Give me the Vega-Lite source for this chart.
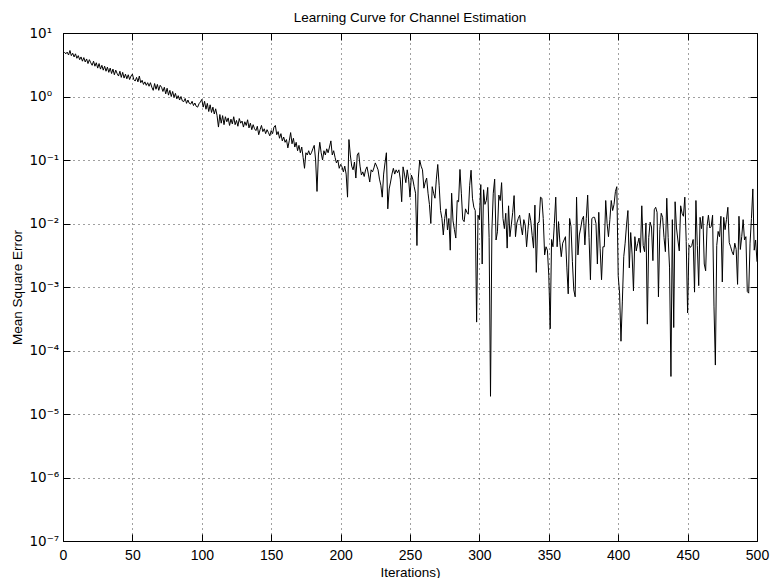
{
"$schema": "https://vega.github.io/schema/vega-lite/v6.json",
"width": 694, "height": 508,
"autosize": "none",
"padding": {"left": 63, "top": 33, "right": 13, "bottom": 37},
"background": "white",
"title": {"text": "Learning Curve for Channel Estimation", "fontSize": 13.5, "fontWeight": "normal", "font": "Liberation Sans", "offset": 2, "color": "black"},
"config": {
  "view": {"stroke": null},
  "font": "Liberation Sans",
  "axis": {"domainColor": "black", "domainWidth": 1, "tickColor": "black", "tickSize": -7, "tickWidth": 1, "labelColor": "black", "labelFont": "Liberation Sans", "labelFontSize": 14, "titleFont": "Liberation Sans", "titleFontSize": 13.5, "titleFontWeight": "normal", "titleColor": "black", "gridColor": "#000000", "gridOpacity": 0.75, "gridDash": [1, 4], "gridWidth": 1, "labelOverlap": false, "labelFlush": false}
},
"data": {"values": [
{"i":1,"mse":5.0},{"i":2,"mse":4.7},{"i":3,"mse":5.0},{"i":4,"mse":4.5},{"i":5,"mse":5.3},{"i":6,"mse":4.4},{"i":7,"mse":4.8},{"i":8,"mse":4.2},{"i":9,"mse":4.7},{"i":10,"mse":4.0},
{"i":11,"mse":4.4},{"i":12,"mse":3.8},{"i":13,"mse":4.2},{"i":14,"mse":3.6},{"i":15,"mse":4.1},{"i":16,"mse":3.5},{"i":17,"mse":3.9},{"i":18,"mse":3.3},{"i":19,"mse":3.8},{"i":20,"mse":3.4},
{"i":21,"mse":3.1},{"i":22,"mse":3.6},{"i":23,"mse":3.0},{"i":24,"mse":3.4},{"i":25,"mse":2.8},{"i":26,"mse":3.3},{"i":27,"mse":2.7},{"i":28,"mse":3.1},{"i":29,"mse":2.6},{"i":30,"mse":3.0},
{"i":31,"mse":2.5},{"i":32,"mse":2.9},{"i":33,"mse":2.4},{"i":34,"mse":2.8},{"i":35,"mse":2.3},{"i":36,"mse":2.7},{"i":37,"mse":2.2},{"i":38,"mse":2.6},{"i":39,"mse":2.3},{"i":40,"mse":2.1},
{"i":41,"mse":2.5},{"i":42,"mse":2.0},{"i":43,"mse":2.4},{"i":44,"mse":1.95},{"i":45,"mse":2.25},{"i":46,"mse":1.9},{"i":47,"mse":2.2},{"i":48,"mse":1.85},{"i":49,"mse":2.1},{"i":50,"mse":2.25},
{"i":51,"mse":1.85},{"i":52,"mse":1.75},{"i":53,"mse":2.0},{"i":54,"mse":1.7},{"i":55,"mse":2.1},{"i":56,"mse":1.65},{"i":57,"mse":1.8},{"i":58,"mse":1.55},{"i":59,"mse":1.7},{"i":60,"mse":1.5},
{"i":61,"mse":1.65},{"i":62,"mse":1.45},{"i":63,"mse":1.65},{"i":64,"mse":1.4},{"i":65,"mse":1.25},{"i":66,"mse":1.6},{"i":67,"mse":1.3},{"i":68,"mse":1.55},{"i":69,"mse":1.25},{"i":70,"mse":1.5},
{"i":71,"mse":1.4},{"i":72,"mse":1.2},{"i":73,"mse":1.4},{"i":74,"mse":1.1},{"i":75,"mse":1.35},{"i":76,"mse":1.05},{"i":77,"mse":1.25},{"i":78,"mse":1.0},{"i":79,"mse":1.2},{"i":80,"mse":0.97},
{"i":81,"mse":1.12},{"i":82,"mse":0.92},{"i":83,"mse":1.03},{"i":84,"mse":0.88},{"i":85,"mse":1.0},{"i":86,"mse":0.85},{"i":87,"mse":0.83},{"i":88,"mse":0.93},{"i":89,"mse":0.78},{"i":90,"mse":0.88},
{"i":91,"mse":0.78},{"i":92,"mse":0.76},{"i":93,"mse":0.84},{"i":94,"mse":0.72},{"i":95,"mse":0.79},{"i":96,"mse":0.7},{"i":97,"mse":0.68},{"i":98,"mse":0.77},{"i":99,"mse":0.82},{"i":100,"mse":0.9},
{"i":101,"mse":0.68},{"i":102,"mse":0.84},{"i":103,"mse":0.63},{"i":104,"mse":0.78},{"i":105,"mse":0.58},{"i":106,"mse":0.74},{"i":107,"mse":0.56},{"i":108,"mse":0.68},{"i":109,"mse":0.53},{"i":110,"mse":0.64},
{"i":111,"mse":0.5},{"i":112,"mse":0.33},{"i":113,"mse":0.52},{"i":114,"mse":0.38},{"i":115,"mse":0.5},{"i":116,"mse":0.36},{"i":117,"mse":0.48},{"i":118,"mse":0.4},{"i":119,"mse":0.46},{"i":120,"mse":0.35},
{"i":121,"mse":0.44},{"i":122,"mse":0.37},{"i":123,"mse":0.48},{"i":124,"mse":0.36},{"i":125,"mse":0.42},{"i":126,"mse":0.34},{"i":127,"mse":0.45},{"i":128,"mse":0.38},{"i":129,"mse":0.41},{"i":130,"mse":0.33},
{"i":131,"mse":0.4},{"i":132,"mse":0.35},{"i":133,"mse":0.43},{"i":134,"mse":0.32},{"i":135,"mse":0.38},{"i":136,"mse":0.3},{"i":137,"mse":0.36},{"i":138,"mse":0.31},{"i":139,"mse":0.29},{"i":140,"mse":0.34},
{"i":141,"mse":0.25},{"i":142,"mse":0.3},{"i":143,"mse":0.35},{"i":144,"mse":0.28},{"i":145,"mse":0.31},{"i":146,"mse":0.26},{"i":147,"mse":0.3},{"i":148,"mse":0.27},{"i":149,"mse":0.24},{"i":150,"mse":0.29},
{"i":151,"mse":0.26},{"i":152,"mse":0.33},{"i":153,"mse":0.35},{"i":154,"mse":0.25},{"i":155,"mse":0.28},{"i":156,"mse":0.22},{"i":157,"mse":0.26},{"i":158,"mse":0.2},{"i":159,"mse":0.23},{"i":160,"mse":0.19},
{"i":161,"mse":0.21},{"i":162,"mse":0.155},{"i":163,"mse":0.2},{"i":164,"mse":0.27},{"i":165,"mse":0.18},{"i":166,"mse":0.22},{"i":167,"mse":0.16},{"i":168,"mse":0.19},{"i":169,"mse":0.14},{"i":170,"mse":0.17},
{"i":171,"mse":0.13},{"i":172,"mse":0.16},{"i":173,"mse":0.11},{"i":174,"mse":0.074},{"i":175,"mse":0.13},{"i":176,"mse":0.12},{"i":177,"mse":0.14},{"i":178,"mse":0.12},{"i":179,"mse":0.13},{"i":180,"mse":0.15},
{"i":181,"mse":0.17},{"i":182,"mse":0.1},{"i":183,"mse":0.032},{"i":184,"mse":0.12},{"i":185,"mse":0.19},{"i":186,"mse":0.13},{"i":187,"mse":0.1},{"i":188,"mse":0.14},{"i":189,"mse":0.12},{"i":190,"mse":0.15},
{"i":191,"mse":0.13},{"i":192,"mse":0.16},{"i":193,"mse":0.2},{"i":194,"mse":0.12},{"i":195,"mse":0.14},{"i":196,"mse":0.11},{"i":197,"mse":0.09},{"i":198,"mse":0.1},{"i":199,"mse":0.074},{"i":200,"mse":0.085},
{"i":201,"mse":0.078},{"i":202,"mse":0.065},{"i":203,"mse":0.08},{"i":204,"mse":0.06},{"i":205,"mse":0.026},{"i":206,"mse":0.21},{"i":207,"mse":0.12},{"i":208,"mse":0.08},{"i":209,"mse":0.07},{"i":210,"mse":0.093},
{"i":211,"mse":0.052},{"i":212,"mse":0.12},{"i":213,"mse":0.13},{"i":214,"mse":0.08},{"i":215,"mse":0.058},{"i":216,"mse":0.065},{"i":217,"mse":0.055},{"i":218,"mse":0.07},{"i":219,"mse":0.078},{"i":220,"mse":0.06},
{"i":221,"mse":0.045},{"i":222,"mse":0.07},{"i":223,"mse":0.065},{"i":224,"mse":0.075},{"i":225,"mse":0.09},{"i":226,"mse":0.08},{"i":227,"mse":0.07},{"i":228,"mse":0.05},{"i":229,"mse":0.04},{"i":230,"mse":0.026},
{"i":231,"mse":0.06},{"i":232,"mse":0.09},{"i":233,"mse":0.13},{"i":234,"mse":0.017},{"i":235,"mse":0.035},{"i":236,"mse":0.045},{"i":237,"mse":0.06},{"i":238,"mse":0.074},{"i":239,"mse":0.06},{"i":240,"mse":0.07},
{"i":241,"mse":0.063},{"i":242,"mse":0.07},{"i":243,"mse":0.05},{"i":244,"mse":0.022},{"i":245,"mse":0.078},{"i":246,"mse":0.06},{"i":247,"mse":0.044},{"i":248,"mse":0.07},{"i":249,"mse":0.05},{"i":250,"mse":0.026},
{"i":251,"mse":0.058},{"i":252,"mse":0.05},{"i":253,"mse":0.038},{"i":254,"mse":0.03},{"i":255,"mse":0.0045},{"i":256,"mse":0.052},{"i":257,"mse":0.1},{"i":258,"mse":0.08},{"i":259,"mse":0.07},{"i":260,"mse":0.036},
{"i":261,"mse":0.045},{"i":262,"mse":0.052},{"i":263,"mse":0.03},{"i":264,"mse":0.02},{"i":265,"mse":0.01},{"i":266,"mse":0.038},{"i":267,"mse":0.03},{"i":268,"mse":0.025},{"i":269,"mse":0.05},{"i":270,"mse":0.085},
{"i":271,"mse":0.04},{"i":272,"mse":0.016},{"i":273,"mse":0.012},{"i":274,"mse":0.0066},{"i":275,"mse":0.012},{"i":276,"mse":0.017},{"i":277,"mse":0.0079},{"i":278,"mse":0.012},{"i":279,"mse":0.0038},{"i":280,"mse":0.03},
{"i":281,"mse":0.011},{"i":282,"mse":0.008},{"i":283,"mse":0.0059},{"i":284,"mse":0.023},{"i":285,"mse":0.022},{"i":286,"mse":0.071},{"i":287,"mse":0.03},{"i":288,"mse":0.0115},{"i":289,"mse":0.0107},{"i":290,"mse":0.017},
{"i":291,"mse":0.015},{"i":292,"mse":0.014},{"i":293,"mse":0.04},{"i":294,"mse":0.069},{"i":295,"mse":0.025},{"i":296,"mse":0.018},{"i":297,"mse":0.016},{"i":298,"mse":0.00028},{"i":299,"mse":0.0135},{"i":300,"mse":0.0115},
{"i":301,"mse":0.041},{"i":302,"mse":0.0023},{"i":303,"mse":0.034},{"i":304,"mse":0.02},{"i":305,"mse":0.023},{"i":306,"mse":0.037},{"i":307,"mse":0.006},{"i":308,"mse":0.000019},{"i":309,"mse":0.0079},{"i":310,"mse":0.03},
{"i":311,"mse":0.05},{"i":312,"mse":0.0055},{"i":313,"mse":0.0074},{"i":314,"mse":0.028},{"i":315,"mse":0.023},{"i":316,"mse":0.044},{"i":317,"mse":0.012},{"i":318,"mse":0.0083},{"i":319,"mse":0.0145},{"i":320,"mse":0.0041},
{"i":321,"mse":0.019},{"i":322,"mse":0.0062},{"i":323,"mse":0.0095},{"i":324,"mse":0.015},{"i":325,"mse":0.0275},{"i":326,"mse":0.0062},{"i":327,"mse":0.0102},{"i":328,"mse":0.012},{"i":329,"mse":0.0135},{"i":330,"mse":0.009},
{"i":331,"mse":0.0066},{"i":332,"mse":0.0115},{"i":333,"mse":0.0095},{"i":334,"mse":0.0043},{"i":335,"mse":0.008},{"i":336,"mse":0.0145},{"i":337,"mse":0.011},{"i":338,"mse":0.0065},{"i":339,"mse":0.0041},{"i":340,"mse":0.0195},
{"i":341,"mse":0.0017},{"i":342,"mse":0.0102},{"i":343,"mse":0.0105},{"i":344,"mse":0.026},{"i":345,"mse":0.025},{"i":346,"mse":0.012},{"i":347,"mse":0.0032},{"i":348,"mse":0.0043},{"i":349,"mse":0.0038},{"i":350,"mse":0.0015},
{"i":351,"mse":0.00022},{"i":352,"mse":0.0056},{"i":353,"mse":0.0043},{"i":354,"mse":0.01},{"i":355,"mse":0.026},{"i":356,"mse":0.0043},{"i":357,"mse":0.0107},{"i":358,"mse":0.005},{"i":359,"mse":0.003},{"i":360,"mse":0.0049},
{"i":361,"mse":0.0055},{"i":362,"mse":0.0062},{"i":363,"mse":0.002},{"i":364,"mse":0.00078},{"i":365,"mse":0.012},{"i":366,"mse":0.009},{"i":367,"mse":0.0025},{"i":368,"mse":0.0009},{"i":369,"mse":0.0007},{"i":370,"mse":0.026},
{"i":371,"mse":0.0032},{"i":372,"mse":0.0066},{"i":373,"mse":0.0085},{"i":374,"mse":0.0115},{"i":375,"mse":0.013},{"i":376,"mse":0.0046},{"i":377,"mse":0.012},{"i":378,"mse":0.028},{"i":379,"mse":0.006},{"i":380,"mse":0.0013},
{"i":381,"mse":0.012},{"i":382,"mse":0.0125},{"i":383,"mse":0.0125},{"i":384,"mse":0.01},{"i":385,"mse":0.0023},{"i":386,"mse":0.015},{"i":387,"mse":0.004},{"i":388,"mse":0.0013},{"i":389,"mse":0.0043},{"i":390,"mse":0.0043},
{"i":391,"mse":0.023},{"i":392,"mse":0.01},{"i":393,"mse":0.0062},{"i":394,"mse":0.0115},{"i":395,"mse":0.023},{"i":396,"mse":0.016},{"i":397,"mse":0.02},{"i":398,"mse":0.032},{"i":399,"mse":0.038},{"i":400,"mse":0.0015},
{"i":401,"mse":0.0008},{"i":402,"mse":0.00014},{"i":403,"mse":0.0006},{"i":404,"mse":0.003},{"i":405,"mse":0.0049},{"i":406,"mse":0.0095},{"i":407,"mse":0.016},{"i":408,"mse":0.002},{"i":409,"mse":0.0072},{"i":410,"mse":0.0033},
{"i":411,"mse":0.00087},{"i":412,"mse":0.0062},{"i":413,"mse":0.0037},{"i":414,"mse":0.0048},{"i":415,"mse":0.0059},{"i":416,"mse":0.0035},{"i":417,"mse":0.019},{"i":418,"mse":0.0045},{"i":419,"mse":0.0036},{"i":420,"mse":0.0102},
{"i":421,"mse":0.00026},{"i":422,"mse":0.006},{"i":423,"mse":0.0105},{"i":424,"mse":0.0088},{"i":425,"mse":0.0026},{"i":426,"mse":0.0165},{"i":427,"mse":0.018},{"i":428,"mse":0.015},{"i":429,"mse":0.0007},{"i":430,"mse":0.008},
{"i":431,"mse":0.0145},{"i":432,"mse":0.0125},{"i":433,"mse":0.006},{"i":434,"mse":0.0036},{"i":435,"mse":0.025},{"i":436,"mse":0.006},{"i":437,"mse":0.002},{"i":438,"mse":0.000039},{"i":439,"mse":0.0115},{"i":440,"mse":0.00023},
{"i":441,"mse":0.022},{"i":442,"mse":0.0085},{"i":443,"mse":0.0055},{"i":444,"mse":0.0037},{"i":445,"mse":0.019},{"i":446,"mse":0.0145},{"i":447,"mse":0.013},{"i":448,"mse":0.026},{"i":449,"mse":0.0052},{"i":450,"mse":0.00039},
{"i":451,"mse":0.0046},{"i":452,"mse":0.0042},{"i":453,"mse":0.0045},{"i":454,"mse":0.0056},{"i":455,"mse":0.00083},{"i":456,"mse":0.023},{"i":457,"mse":0.0045},{"i":458,"mse":0.00105},{"i":459,"mse":0.0125},{"i":460,"mse":0.0083},
{"i":461,"mse":0.013},{"i":462,"mse":0.0023},{"i":463,"mse":0.0018},{"i":464,"mse":0.009},{"i":465,"mse":0.0135},{"i":466,"mse":0.0085},{"i":467,"mse":0.009},{"i":468,"mse":0.0135},{"i":469,"mse":0.0005},{"i":470,"mse":0.000059},
{"i":471,"mse":0.0045},{"i":472,"mse":0.0075},{"i":473,"mse":0.0062},{"i":474,"mse":0.013},{"i":475,"mse":0.0012},{"i":476,"mse":0.0125},{"i":477,"mse":0.008},{"i":478,"mse":0.0115},{"i":479,"mse":0.018},{"i":480,"mse":0.005},
{"i":481,"mse":0.0043},{"i":482,"mse":0.0036},{"i":483,"mse":0.0032},{"i":484,"mse":0.0049},{"i":485,"mse":0.0039},{"i":486,"mse":0.0011},{"i":487,"mse":0.013},{"i":488,"mse":0.0039},{"i":489,"mse":0.0062},{"i":490,"mse":0.0115},
{"i":491,"mse":0.0055},{"i":492,"mse":0.0062},{"i":493,"mse":0.00085},{"i":494,"mse":0.0008},{"i":495,"mse":0.0049},{"i":496,"mse":0.012},{"i":497,"mse":0.035},{"i":498,"mse":0.0038},{"i":499,"mse":0.0055},{"i":500,"mse":0.0025}
]},
"layer": [
  {
    "mark": {"type": "line", "color": "black", "strokeWidth": 1},
    "encoding": {
      "x": {"field": "i", "type": "quantitative",
        "scale": {"domain": [0, 500], "nice": false, "zero": false},
        "axis": {"orient": "bottom", "values": [0,50,100,150,200,250,300,350,400,450,500], "title": "Iterations)", "grid": true, "labelPadding": 14, "titlePadding": 3, "labelBaseline": "top"}},
      "y": {"field": "mse", "type": "quantitative",
        "scale": {"type": "log", "domain": [0.0000001, 10], "nice": false},
        "axis": {"orient": "left", "values": [0.0000001,0.000001,0.00001,0.0001,0.001,0.01,0.1,1,10], "title": "Mean Square Error", "grid": true, "labelAlign": "left", "labelBaseline": "middle", "labelPadding": 41, "titlePadding": 5, "labelFont": "DejaVu Sans", "labelFontSize": 13.5,
          "labelExpr": "datum.value > 5 ? '10¹' : datum.value > 0.5 ? '10⁰' : datum.value > 0.05 ? '10⁻¹' : datum.value > 0.005 ? '10⁻²' : datum.value > 0.0005 ? '10⁻³' : datum.value > 0.00005 ? '10⁻⁴' : datum.value > 0.000005 ? '10⁻⁵' : datum.value > 0.0000005 ? '10⁻⁶' : '10⁻⁷'"}}
    }
  },
  {
    "mark": {"type": "line", "opacity": 0, "strokeOpacity": 0},
    "encoding": {
      "x": {"field": "i", "type": "quantitative",
        "axis": {"orient": "top", "values": [0,50,100,150,200,250,300,350,400,450,500], "title": null, "labels": false, "grid": false}},
      "y": {"field": "mse", "type": "quantitative",
        "axis": {"orient": "right", "values": [0.0000001,0.000001,0.00001,0.0001,0.001,0.01,0.1,1,10], "title": null, "labels": false, "grid": false}}
    }
  }
],
"resolve": {"axis": {"x": "independent", "y": "independent"}}
}
